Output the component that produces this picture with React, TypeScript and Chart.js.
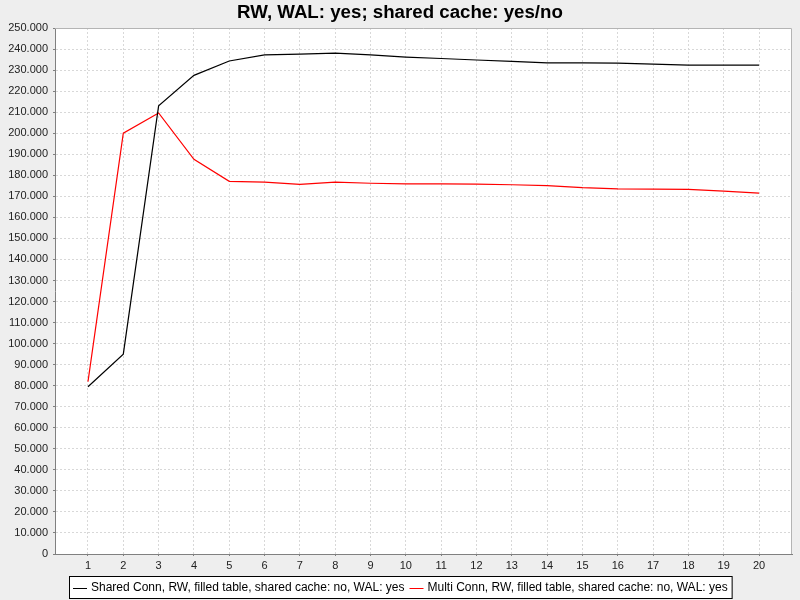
import React, { useEffect, useRef } from "react";
import { Chart, registerables } from "chart.js";

Chart.register(...registerables);

const TITLE = "RW, WAL: yes; shared cache: yes/no";
const categories = [1, 2, 3, 4, 5, 6, 7, 8, 9, 10, 11, 12, 13, 14, 15, 16, 17, 18, 19, 20];
const sharedConnLabel = "Shared Conn, RW, filled table, shared cache: no, WAL: yes";
const sharedConnValues = [79500, 95000, 213000, 227500, 234300, 237200, 237600, 238100, 237200, 236200, 235500, 234800, 234100, 233400, 233400, 233300, 232800, 232400, 232400, 232400];
const multiConnLabel = "Multi Conn, RW, filled table, shared cache: no, WAL: yes";
const multiConnValues = [81900, 200000, 209600, 187600, 177100, 176700, 175700, 176700, 176200, 175900, 175900, 175800, 175500, 175100, 174100, 173500, 173400, 173300, 172500, 171500];
const yMin = 0;
const yMax = 250000;
const yStep = 10000;

const fmt = (v: number) => String(Math.round(v)).replace(/\B(?=(\d{3})+(?!\d))/g, ".");

const framePlugin = {
  id: "frame",
  beforeDraw(chart: any) {
    const { ctx, width, height, chartArea } = chart;
    ctx.save();
    ctx.fillStyle = "#eeeeee";
    ctx.fillRect(0, 0, width, height);
    ctx.fillStyle = "#ffffff";
    ctx.fillRect(chartArea.left, chartArea.top, chartArea.right - chartArea.left, chartArea.bottom - chartArea.top);
    ctx.restore();
  },
  afterDraw(chart: any) {
    const { ctx, chartArea } = chart;
    ctx.save();
    // outline
    ctx.strokeStyle = "#b4b4b4";
    ctx.lineWidth = 1;
    ctx.beginPath();
    ctx.moveTo(chartArea.left, chartArea.top + 0.5);
    ctx.lineTo(chartArea.right - 0.5, chartArea.top + 0.5);
    ctx.lineTo(chartArea.right - 0.5, chartArea.bottom);
    ctx.stroke();
    // title
    ctx.fillStyle = "#000000";
    ctx.font = "bold 18.7px 'Liberation Sans', Arial, sans-serif";
    ctx.textAlign = "center";
    ctx.textBaseline = "middle";
    ctx.fillText(TITLE, 400, 13);
    // legend
    ctx.font = "12px 'Liberation Sans', Arial, sans-serif";
    ctx.textAlign = "left";
    const ds = chart.data.datasets;
    let total = 4;
    const widths = ds.map((d: any) => ctx.measureText(d.label).width);
    ds.forEach((_: any, i: number) => {
      total += 18 + widths[i] + (i < ds.length - 1 ? 5 : 4);
    });
    const boxX = Math.round(400 - total / 2);
    const boxY = 576;
    const boxH = 22;
    ctx.fillStyle = "#ffffff";
    ctx.fillRect(boxX, boxY, total, boxH);
    ctx.strokeStyle = "#000000";
    ctx.strokeRect(boxX + 0.5, boxY + 0.5, total, boxH);
    let x = boxX + 4;
    const cy = boxY + 11.5;
    ds.forEach((d: any, i: number) => {
      ctx.strokeStyle = d.borderColor;
      ctx.beginPath();
      ctx.moveTo(x, Math.round(cy) + 0.5);
      ctx.lineTo(x + 14, Math.round(cy) + 0.5);
      ctx.stroke();
      ctx.fillStyle = "#000000";
      ctx.fillText(d.label, x + 18, cy);
      x += 18 + widths[i] + 5;
    });
    ctx.restore();
  },
};

export default function App() {
  const ref = useRef<HTMLCanvasElement | null>(null);
  useEffect(() => {
    document.body.style.margin = "0";
    if (!ref.current) return;
    const chart = new Chart(ref.current, {
      type: "line",
      data: {
        datasets: [
          {
            label: sharedConnLabel,
            data: categories.map((c, i) => ({ x: c, y: sharedConnValues[i] })),
            borderColor: "#000000",
            backgroundColor: "#000000",
            borderWidth: 1.2,
            pointRadius: 0,
            tension: 0,
          },
          {
            label: multiConnLabel,
            data: categories.map((c, i) => ({ x: c, y: multiConnValues[i] })),
            borderColor: "#ff0000",
            backgroundColor: "#ff0000",
            borderWidth: 1.2,
            pointRadius: 0,
            tension: 0,
          },
        ],
      },
      options: {
        animation: false,
        responsive: false,
        devicePixelRatio: 1,
        layout: { padding: { top: 28, right: 8, bottom: 28, left: 0 } },
        plugins: { legend: { display: false }, title: { display: false }, tooltip: { enabled: false } },
        scales: {
          x: {
            type: "linear",
            min: 0.066,
            max: 20.934,
            afterBuildTicks: (scale: any) => {
              scale.ticks = categories.map((v) => ({ value: v }));
            },
            afterFit: (scale: any) => {
              scale.height = 18;
            },
            ticks: {
              autoSkip: false,
              maxRotation: 0,
              padding: 3,
              color: "#222222",
              font: { family: "'Liberation Sans', Arial, sans-serif", size: 11 },
              callback: (v: any) => String(v),
            },
            grid: { color: "#d8d8d8", tickColor: "#808080", tickLength: 2, tickBorderDash: [] },
            border: { display: true, color: "#808080", width: 1, dash: [2, 2] },
          },
          y: {
            min: yMin,
            max: yMax,
            afterBuildTicks: (scale: any) => {
              const t = [];
              for (let v = yMin; v <= yMax; v += yStep) t.push({ value: v });
              scale.ticks = t;
            },
            afterFit: (scale: any) => {
              scale.width = 55;
            },
            ticks: {
              autoSkip: false,
              padding: 5,
              color: "#222222",
              font: { family: "'Liberation Sans', Arial, sans-serif", size: 11 },
              callback: (v: any) => fmt(Number(v)),
            },
            grid: { color: "#d8d8d8", tickColor: "#808080", tickLength: 2, tickBorderDash: [] },
            border: { display: true, color: "#808080", width: 1, dash: [2, 2] },
          },
        },
      },
      plugins: [framePlugin],
    } as any);
    return () => chart.destroy();
  }, []);
  return (
    <div style={{ position: "absolute", left: 0, top: 0, width: 800, height: 600, background: "#eeeeee" }}>
      <canvas ref={ref} width={800} height={600} style={{ width: 800, height: 600, display: "block" }} />
    </div>
  );
}
